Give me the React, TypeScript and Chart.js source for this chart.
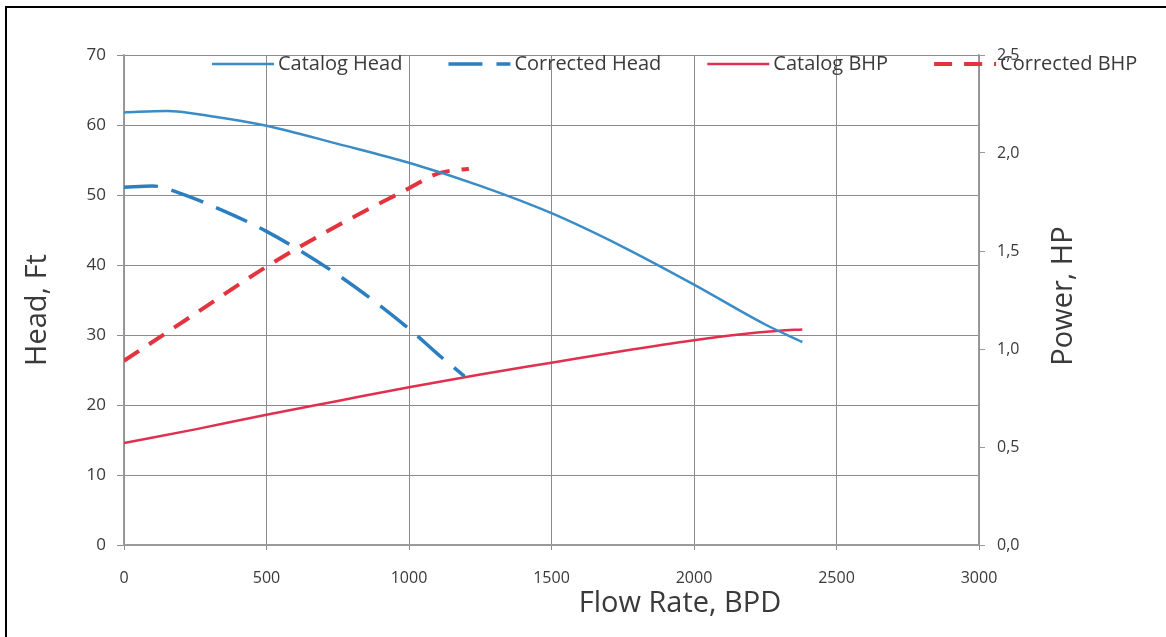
import React, { useEffect, useRef } from "react";
import { Chart, registerables } from "chart.js";

Chart.register(...registerables);

// Pump performance: head (ft) and brake horsepower vs flow rate (BPD)
const catalogHeadFlow = [0, 150, 300, 500, 750, 1000, 1250, 1500, 1750, 2000, 2250, 2380];
const catalogHead = [61.8, 62.0, 61.3, 59.9, 57.3, 54.6, 51.3, 47.4, 42.6, 37.2, 31.5, 29.0];

const correctedHeadFlow = [0, 100, 200, 300, 500, 750, 1000, 1100, 1195];
const correctedHead = [51.1, 51.3, 50.2, 48.6, 44.8, 38.6, 30.9, 27.3, 24.1];

const catalogBhpFlow = [0, 250, 500, 750, 1000, 1250, 1500, 1750, 2000, 2150, 2300, 2380];
const catalogBhp = [0.52, 0.59, 0.665, 0.735, 0.805, 0.87, 0.93, 0.99, 1.045, 1.073, 1.093, 1.1];

const correctedBhpFlow = [0, 250, 500, 750, 1000, 1100, 1210];
const correctedBhp = [0.94, 1.18, 1.42, 1.63, 1.82, 1.895, 1.92];

const seriesLabels = ["Catalog Head", "Corrected Head", "Catalog BHP", "Corrected BHP"];
const xTitle = "Flow Rate, BPD";
const yTitle = "Head, Ft";
const y1Title = "Power, HP";

const FONT = "'Open Sans', 'DejaVu Sans', sans-serif";
const TEXT = "#3a3a3a";
const GRID = "#8c8c8c";
const BLUE = "#3a8cc6";
const BLUE_DASH = "#2b7ec0";
const RED = "#e0304f";
const RED_DASH = "#e3343e";

const toPoints = (xs: number[], ys: number[]) => xs.map((x, i) => ({ x, y: ys[i] }));

// Legend row and axis titles drawn over the plot
const overlayPlugin = {
  id: "overlay",
  afterDraw(chart: any) {
    const ctx = chart.ctx as CanvasRenderingContext2D;
    ctx.save();

    // legend
    ctx.font = `20px ${FONT}`;
    ctx.textBaseline = "middle";
    ctx.textAlign = "left";
    let x = 212;
    const y = 64;
    chart.data.datasets.forEach((ds: any) => {
      ctx.save();
      ctx.strokeStyle = ds.borderColor;
      ctx.lineWidth = ds.borderWidth;
      ctx.setLineDash(ds.borderDash || []);
      ctx.beginPath();
      ctx.moveTo(x, y);
      ctx.lineTo(x + 62, y);
      ctx.stroke();
      ctx.restore();
      ctx.fillStyle = TEXT;
      ctx.fillText(ds.label, x + 66, y);
      x += 66 + ctx.measureText(ds.label).width + 46;
    });

    // axis titles
    ctx.font = `29px ${FONT}`;
    ctx.fillStyle = TEXT;
    ctx.textAlign = "center";
    ctx.textBaseline = "middle";
    ctx.fillText(xTitle, 680, 604);

    ctx.save();
    ctx.translate(38, 310);
    ctx.rotate(-Math.PI / 2);
    ctx.fillText(yTitle, 0, 0);
    ctx.restore();

    ctx.save();
    ctx.translate(1064, 296);
    ctx.rotate(-Math.PI / 2);
    ctx.fillText(y1Title, 0, 0);
    ctx.restore();

    ctx.restore();
  },
};

export default function App() {
  const canvasRef = useRef<HTMLCanvasElement | null>(null);

  useEffect(() => {
    const canvas = canvasRef.current;
    if (!canvas) return;
    const chart = new Chart(canvas, {
      type: "line",
      data: {
        datasets: [
          {
            label: seriesLabels[0],
            data: toPoints(catalogHeadFlow, catalogHead),
            yAxisID: "y",
            borderColor: BLUE,
            borderWidth: 2.5,
            pointRadius: 0,
            cubicInterpolationMode: "monotone",
          },
          {
            label: seriesLabels[1],
            data: toPoints(correctedHeadFlow, correctedHead),
            yAxisID: "y",
            borderColor: BLUE_DASH,
            borderWidth: 3.5,
            borderDash: [34, 14],
            pointRadius: 0,
            cubicInterpolationMode: "monotone",
          },
          {
            label: seriesLabels[2],
            data: toPoints(catalogBhpFlow, catalogBhp),
            yAxisID: "y1",
            borderColor: RED,
            borderWidth: 2.5,
            pointRadius: 0,
            cubicInterpolationMode: "monotone",
          },
          {
            label: seriesLabels[3],
            data: toPoints(correctedBhpFlow, correctedBhp),
            yAxisID: "y1",
            borderColor: RED_DASH,
            borderWidth: 4,
            borderDash: [18, 12],
            pointRadius: 0,
            cubicInterpolationMode: "monotone",
          },
        ],
      },
      options: {
        responsive: false,
        animation: false,
        layout: { padding: { top: 55, left: 0, right: 0, bottom: 0 } },
        plugins: {
          legend: { display: false },
          tooltip: { enabled: false },
        },
        scales: {
          x: {
            type: "linear",
            min: 0,
            max: 3000,
            ticks: {
              stepSize: 500,
              padding: 19,
              color: TEXT,
              font: { family: FONT, size: 16 },
              maxRotation: 0,
              callback: (v: any) => String(v),
            },
            grid: { color: GRID, lineWidth: 1, tickLength: 5 },
            border: { color: "#9a9a9a", width: 2 },
            afterFit: (s: any) => {
              s.height = 92;
            },
          },
          y: {
            position: "left",
            min: 0,
            max: 70,
            ticks: {
              stepSize: 10,
              padding: 11,
              color: TEXT,
              font: { family: FONT, size: 17 },
            },
            grid: { color: GRID, lineWidth: 1, tickLength: 7 },
            border: { color: "#9a9a9a", width: 1.5 },
            afterFit: (s: any) => {
              s.width = 124;
            },
          },
          y1: {
            position: "right",
            min: 0,
            max: 2.5,
            ticks: {
              stepSize: 0.5,
              padding: 12,
              color: TEXT,
              font: { family: FONT, size: 16 },
              callback: (v: any) => Number(v).toFixed(1).replace(".", ","),
            },
            grid: { drawOnChartArea: false, color: "#9a9a9a", tickLength: 6 },
            border: { color: "#9a9a9a", width: 1.5 },
            afterFit: (s: any) => {
              s.width = 187;
            },
          },
        },
      },
      plugins: [overlayPlugin],
    } as any);
    return () => chart.destroy();
  }, []);

  return (
    <div
      style={{
        position: "fixed",
        left: 0,
        top: 0,
        width: 1166,
        height: 637,
        background: "#ffffff",
        overflow: "hidden",
      }}
    >
      <canvas ref={canvasRef} width={1166} height={637} style={{ display: "block" }} />
      <div
        style={{
          position: "absolute",
          left: 5,
          top: 6,
          right: 0,
          bottom: 0,
          borderTop: "2px solid #000",
          borderLeft: "2px solid #000",
          pointerEvents: "none",
        }}
      />
    </div>
  );
}
